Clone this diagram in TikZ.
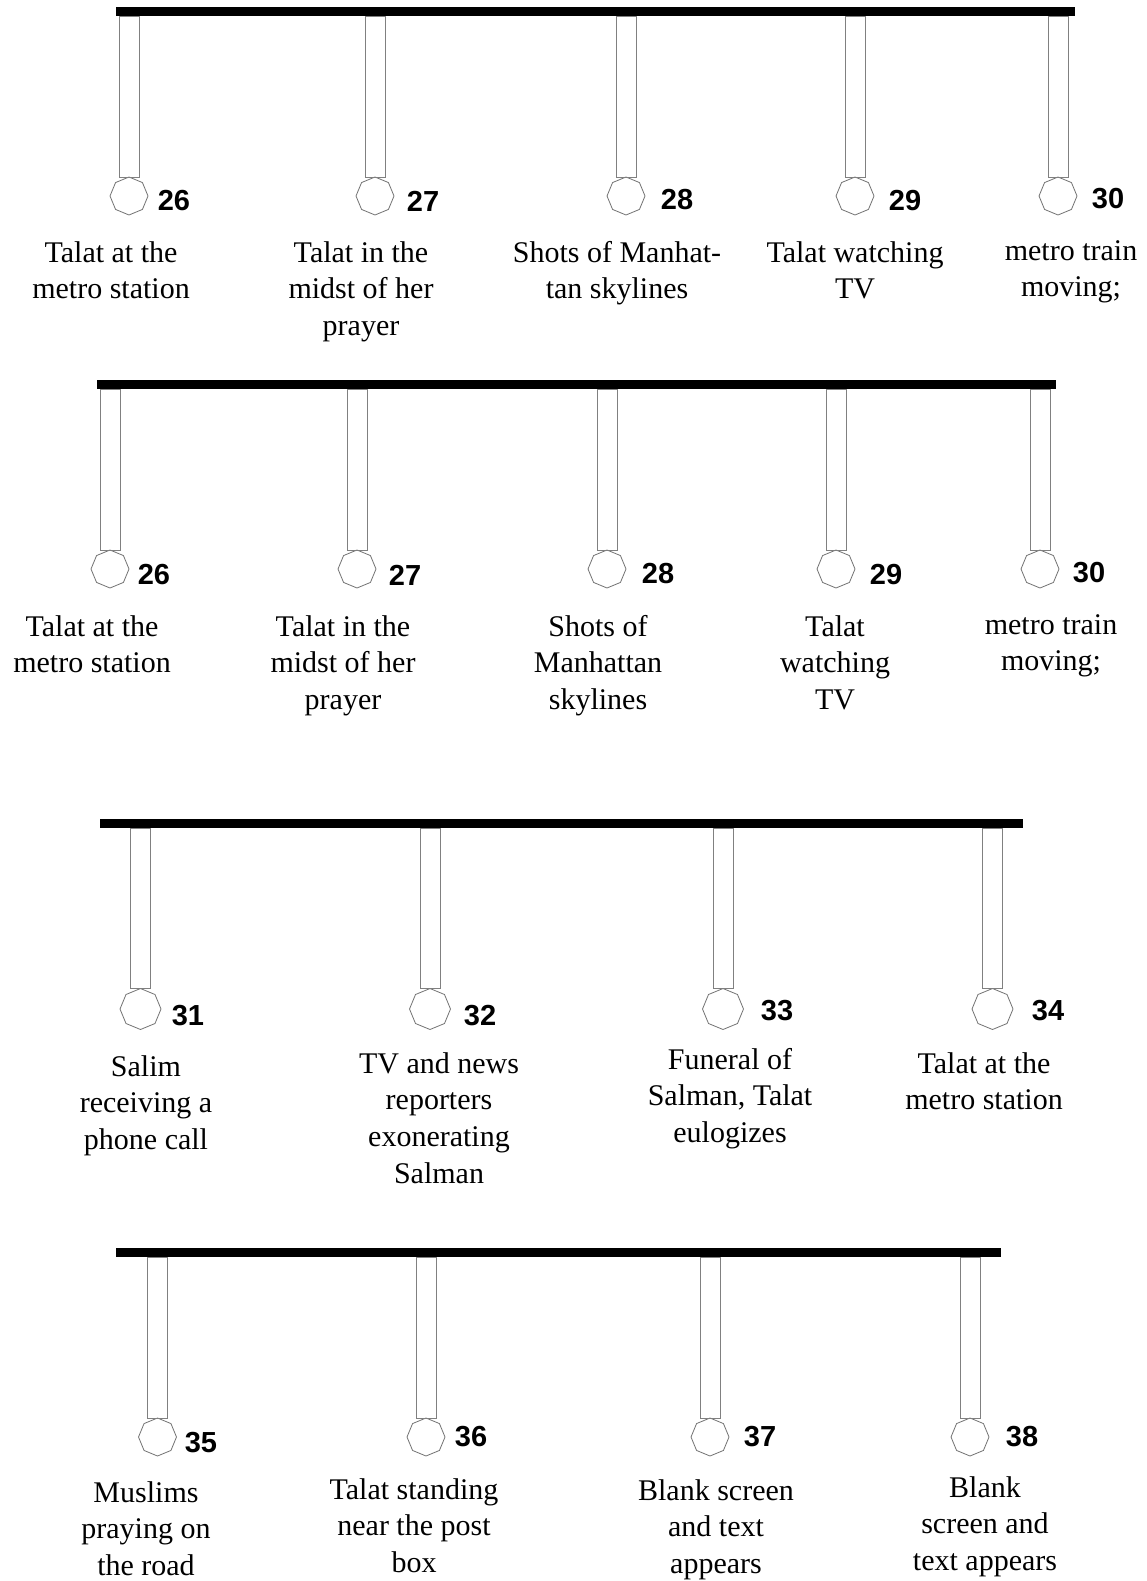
\documentclass[tikz,border=0pt]{standalone}
\usepackage{fontspec}
\setmainfont{Liberation Serif}
\newfontfamily\numfont{Liberation Sans}
\usetikzlibrary{shapes.geometric,calc}
\tikzset{
  barbox/.style={rectangle,fill=black,draw=none,inner sep=0pt,outer sep=0pt,minimum height=9pt},
  oct/.style={regular polygon,regular polygon sides=8,shape border rotate=22.5,draw=black!55,line width=0.8pt,inner sep=0pt,outer sep=0pt,minimum size=38pt,fill=white},
  stembox/.style={draw=black!50,line width=0.8pt},
  num/.style={font=\numfont\bfseries\fontsize{29}{34}\selectfont,inner sep=0pt},
  lbl/.style={font=\fontsize{30}{36.6}\selectfont,align=center,inner sep=0pt,anchor=north},
}
% #1 id, #2 bar node, #3 stem x, #4 octagon y, #5 number x, #6 number y, #7 number text
\newcommand\pend[7]{%
  \node[oct] (o#1) at (#3,#4) {};
  \draw[stembox] ($(o#1.north |- #2.south)+(-10pt,0)$) rectangle ($(o#1.north)+(10pt,0)$);
  \node[num] (n#1) at (#5,#6) {#7};
}
\begin{document}
\begin{tikzpicture}[x=1pt,y=-1pt]
\useasboundingbox[fill=white] (0,0) rectangle (1147,1581);

% ---------- Row 1 ----------
\node[barbox,minimum width=959pt] (bar1) at (595.5,11.5) {};
\pend{a26}{bar1}{129}{196}{174}{201}{26}
\pend{a27}{bar1}{375}{196}{423}{201}{27}
\pend{a28}{bar1}{626}{196}{677}{200}{28}
\pend{a29}{bar1}{855}{196}{905}{201}{29}
\pend{a30}{bar1}{1058}{196}{1108}{199}{30}
\node[lbl] (la26) at (111,236.4) {\strut Talat at the\\metro station};
\node[lbl] (la27) at (361,236.4) {\strut Talat in the\\midst of her\\prayer};
\node[lbl] (la28) at (617,236.4) {\strut Shots of Manhat-\\tan skylines};
\node[lbl] (la29) at (855,236.4) {\strut Talat watching\\TV};
\node[lbl] (la30) at (1071,234.4) {\strut metro train\\moving;};

% ---------- Row 2 ----------
\node[barbox,minimum width=959pt] (bar2) at (576.5,384.5) {};
\pend{b26}{bar2}{110}{569}{154}{575}{26}
\pend{b27}{bar2}{357}{569}{405}{575}{27}
\pend{b28}{bar2}{607}{569}{658}{574}{28}
\pend{b29}{bar2}{836}{569}{886}{575}{29}
\pend{b30}{bar2}{1040}{569}{1089}{573}{30}
\node[lbl] (lb26) at (92,610.4) {\strut Talat at the\\metro station};
\node[lbl] (lb27) at (343,610.4) {\strut Talat in the\\midst of her\\prayer};
\node[lbl] (lb28) at (598,610.4) {\strut Shots of\\Manhattan\\skylines};
\node[lbl] (lb29) at (835,610.4) {\strut Talat\\watching\\TV};
\node[lbl] (lb30) at (1051,608.4) {\strut metro train\\moving;};

% ---------- Row 3 ----------
\begin{scope}[oct/.append style={minimum size=41pt}]
\node[barbox,minimum width=923pt] (bar3) at (561.5,823.5) {};
\pend{c31}{bar3}{140.5}{1009}{188}{1016}{31}
\pend{c32}{bar3}{430}{1009}{480}{1016}{32}
\pend{c33}{bar3}{723}{1009}{777}{1011}{33}
\pend{c34}{bar3}{992.5}{1009}{1048}{1011}{34}
\end{scope}
\node[lbl] (lc31) at (146,1050.4) {\strut Salim\\receiving a\\phone call};
\node[lbl] (lc32) at (439,1047.4) {\strut TV and news\\reporters\\exonerating\\Salman};
\node[lbl] (lc33) at (730,1043.4) {\strut Funeral of\\Salman, Talat\\eulogizes};
\node[lbl] (lc34) at (984,1047.4) {\strut Talat at the\\metro station};

% ---------- Row 4 ----------
\node[barbox,minimum width=885pt] (bar4) at (558.5,1252.5) {};
\pend{d35}{bar4}{157.5}{1437}{201}{1443}{35}
\pend{d36}{bar4}{426}{1437}{471}{1437}{36}
\pend{d37}{bar4}{710}{1437}{760}{1437}{37}
\pend{d38}{bar4}{970}{1437}{1022}{1437}{38}
\node[lbl] (ld35) at (146,1476.4) {\strut Muslims\\praying on\\the road};
\node[lbl] (ld36) at (414,1473.4) {\strut Talat standing\\near the post\\box};
\node[lbl] (ld37) at (716,1474.4) {\strut Blank screen\\and text\\appears};
\node[lbl] (ld38) at (985,1471.4) {\strut Blank\\screen and\\text appears};
\end{tikzpicture}
\end{document}
